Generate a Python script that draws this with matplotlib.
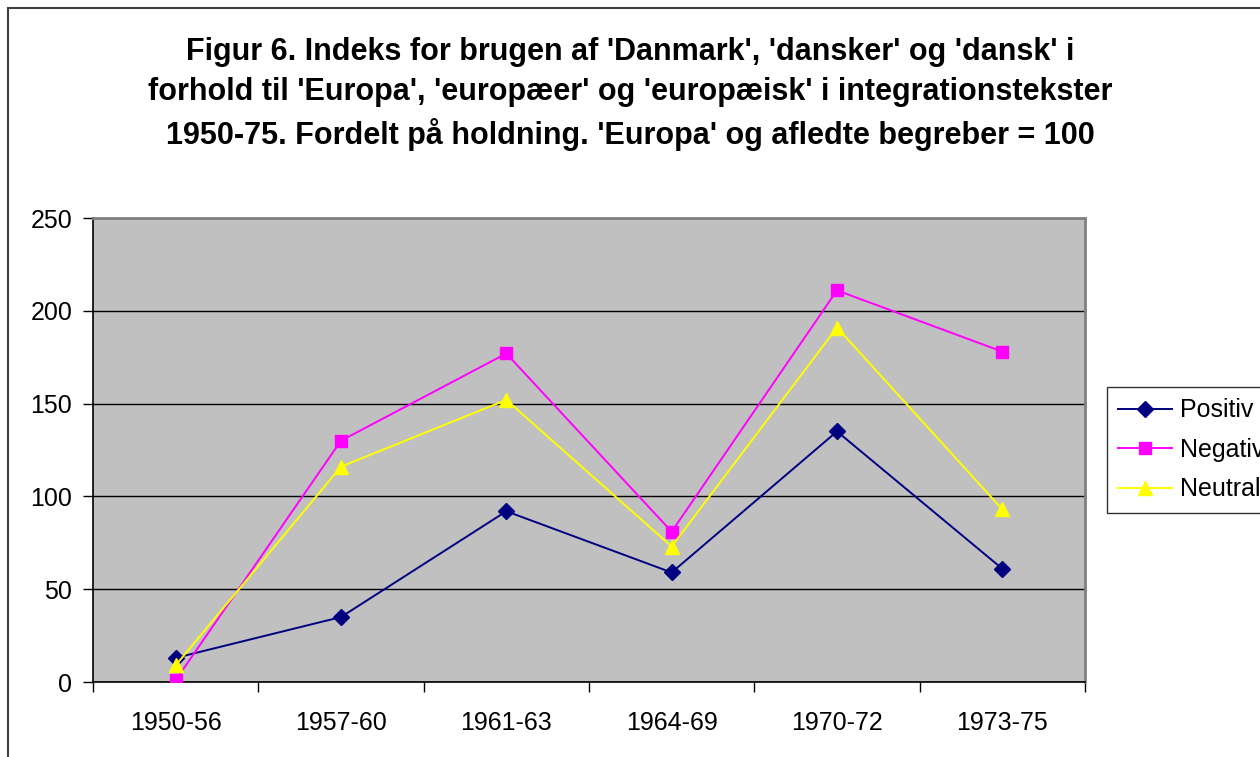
import matplotlib.pyplot as plt
from matplotlib.lines import Line2D

plt.rcParams['font.family'] = ['Liberation Sans', 'DejaVu Sans']

# data
periods = ['1950-56', '1957-60', '1961-63', '1964-69', '1970-72', '1973-75']
positiv = [13, 35, 92, 59, 135, 61]
negativ = [1, 130, 177, 81, 211, 178]
neutral = [9, 116, 152, 73, 191, 93]
y_ticks = [0, 50, 100, 150, 200, 250]

title = ("Figur 6. Indeks for brugen af 'Danmark', 'dansker' og 'dansk' i\n"
         "forhold til 'Europa', 'europæer' og 'europæisk' i integrationstekster\n"
         "1950-75. Fordelt på holdning. 'Europa' og afledte begreber = 100")

fig = plt.figure(figsize=(12.6, 7.57), dpi=100)
W, H = 1260, 757

# outer chart border (left and top visible only)
fig.add_artist(Line2D([8 / W, 8 / W], [-0.1, 1 - 8 / H], color='#404040', lw=1.5))
fig.add_artist(Line2D([8 / W, 1.1], [1 - 8 / H, 1 - 8 / H], color='#404040', lw=1.5))

ax = fig.add_axes([93 / W, 1 - 682 / H, (1085 - 93) / W, (682 - 218) / H])
ax.set_facecolor('#C0C0C0')

x = list(range(len(periods)))
ax.plot(x, positiv, color='#000080', lw=1.4, marker='D', markersize=8.5, label='Positiv', zorder=3)
ax.plot(x, negativ, color='#FF00FF', lw=1.4, marker='s', markersize=8.5, label='Negativ', zorder=3)
ax.plot(x, neutral, color='#FFFF00', lw=1.4, marker='^', markersize=9.5, label='Neutral', zorder=3)

ax.set_xlim(-0.5, len(periods) - 0.5)
ax.set_ylim(0, 250)
ax.set_yticks(y_ticks)
ax.yaxis.grid(True, color='black', lw=1)
ax.set_axisbelow(True)

# category ticks between categories, labels centred
ax.set_xticks([i - 0.5 for i in range(len(periods) + 1)])
ax.set_xticklabels([])
ax.set_xticks(x, minor=True)
ax.set_xticklabels(periods, minor=True)
ax.tick_params(axis='x', which='minor', length=0, pad=21, labelsize=18)
ax.tick_params(axis='x', which='major', length=7, width=1)
ax.tick_params(axis='y', length=7, width=1, labelsize=18, pad=8)

for s in ['left', 'bottom']:
    ax.spines[s].set_color('black')
    ax.spines[s].set_linewidth(1.2)
for s in ['top', 'right']:
    ax.spines[s].set_color('#808080')
    ax.spines[s].set_linewidth(2)

fig.text(630 / W, 1 - 94 / H, title, ha='center', va='center',
         fontsize=22, fontweight='bold', linespacing=1.42)

leg = ax.legend(loc='upper left', bbox_to_anchor=(1107 / W, 1 - 387 / H),
                bbox_transform=fig.transFigure, frameon=True, fancybox=False,
                fontsize=18, handlelength=2.15, borderpad=0.45, labelspacing=0.62,
                handletextpad=0.3, borderaxespad=0)
leg.get_frame().set_edgecolor('black')
leg.get_frame().set_linewidth(1)

fig.savefig('out.png', dpi=100)
